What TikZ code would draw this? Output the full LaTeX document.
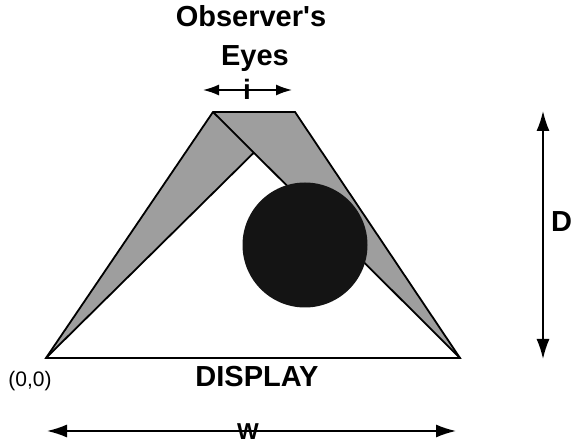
\documentclass[tikz,border=0pt]{standalone}
\usepackage{fontspec}
\setmainfont{Liberation Sans}[Ligatures=TeXOff]
\usetikzlibrary{arrows.meta}
\begin{document}
\begin{tikzpicture}[x=1pt,y=-1pt,
  edge/.style={line width=1.8pt, line join=miter},
  dimarrow/.style={line width=1.6pt, {Latex[length=20pt,width=13pt]}-{Latex[length=20pt,width=13pt]}},
  smallarrow/.style={line width=1.6pt, {Latex[length=16pt,width=11pt]}-{Latex[length=16pt,width=11pt]}},
  lbl/.style={font=\bfseries\fontsize{29}{29}\selectfont, inner sep=0pt, anchor=base},
  shade/.style={fill=black!38},
]
\useasboundingbox (0,0) rectangle (571,446);
% geometry
\coordinate (A) at (46,358);
\coordinate (B) at (460,358);
\coordinate (L) at (213,112);
\coordinate (R) at (295,112);
\coordinate (P) at (intersection of A--R and L--B);
\fill[shade] (A) -- (L) -- (R) -- (B) -- (P) -- cycle;
\draw[edge] (A) -- (L) -- (R) -- (B) -- cycle;
\draw[edge] (A) -- (P);
\draw[edge] (L) -- (B);
\node[circle, fill=black!92, minimum size=125pt, inner sep=0pt] (obj) at (305,245) {};
% labels
\node[lbl] (obs) at (251,27) {Observer's};
\node[lbl] (eyes) at (255,66) {Eyes};
\node[lbl] (disp) at (257,387) {DISPLAY};
\node[font=\fontsize{21}{21}\selectfont, inner sep=0pt, anchor=base] (orig) at (30,387) {(0,0)};
\node[lbl, anchor=base west] (dlab) at (551,232) {D};
% i arrow
\coordinate (il) at (203,90);
\coordinate (ir) at (292,90);
\draw[smallarrow] (il) -- (ir);
\node[lbl, font=\bfseries\fontsize{28}{28}\selectfont] (ilab) at (247,100) {i};
% W arrow
\coordinate (wl) at (47,431);
\coordinate (wr) at (456,431);
\draw[dimarrow] (wl) -- (wr);
\node[lbl, font=\bfseries\fontsize{23}{23}\selectfont] (wlab) at (248,440) {W};
% D arrow
\coordinate (dt) at (543,111);
\coordinate (db) at (543,359);
\draw[dimarrow] (dt) -- (db);
\end{tikzpicture}
\end{document}
